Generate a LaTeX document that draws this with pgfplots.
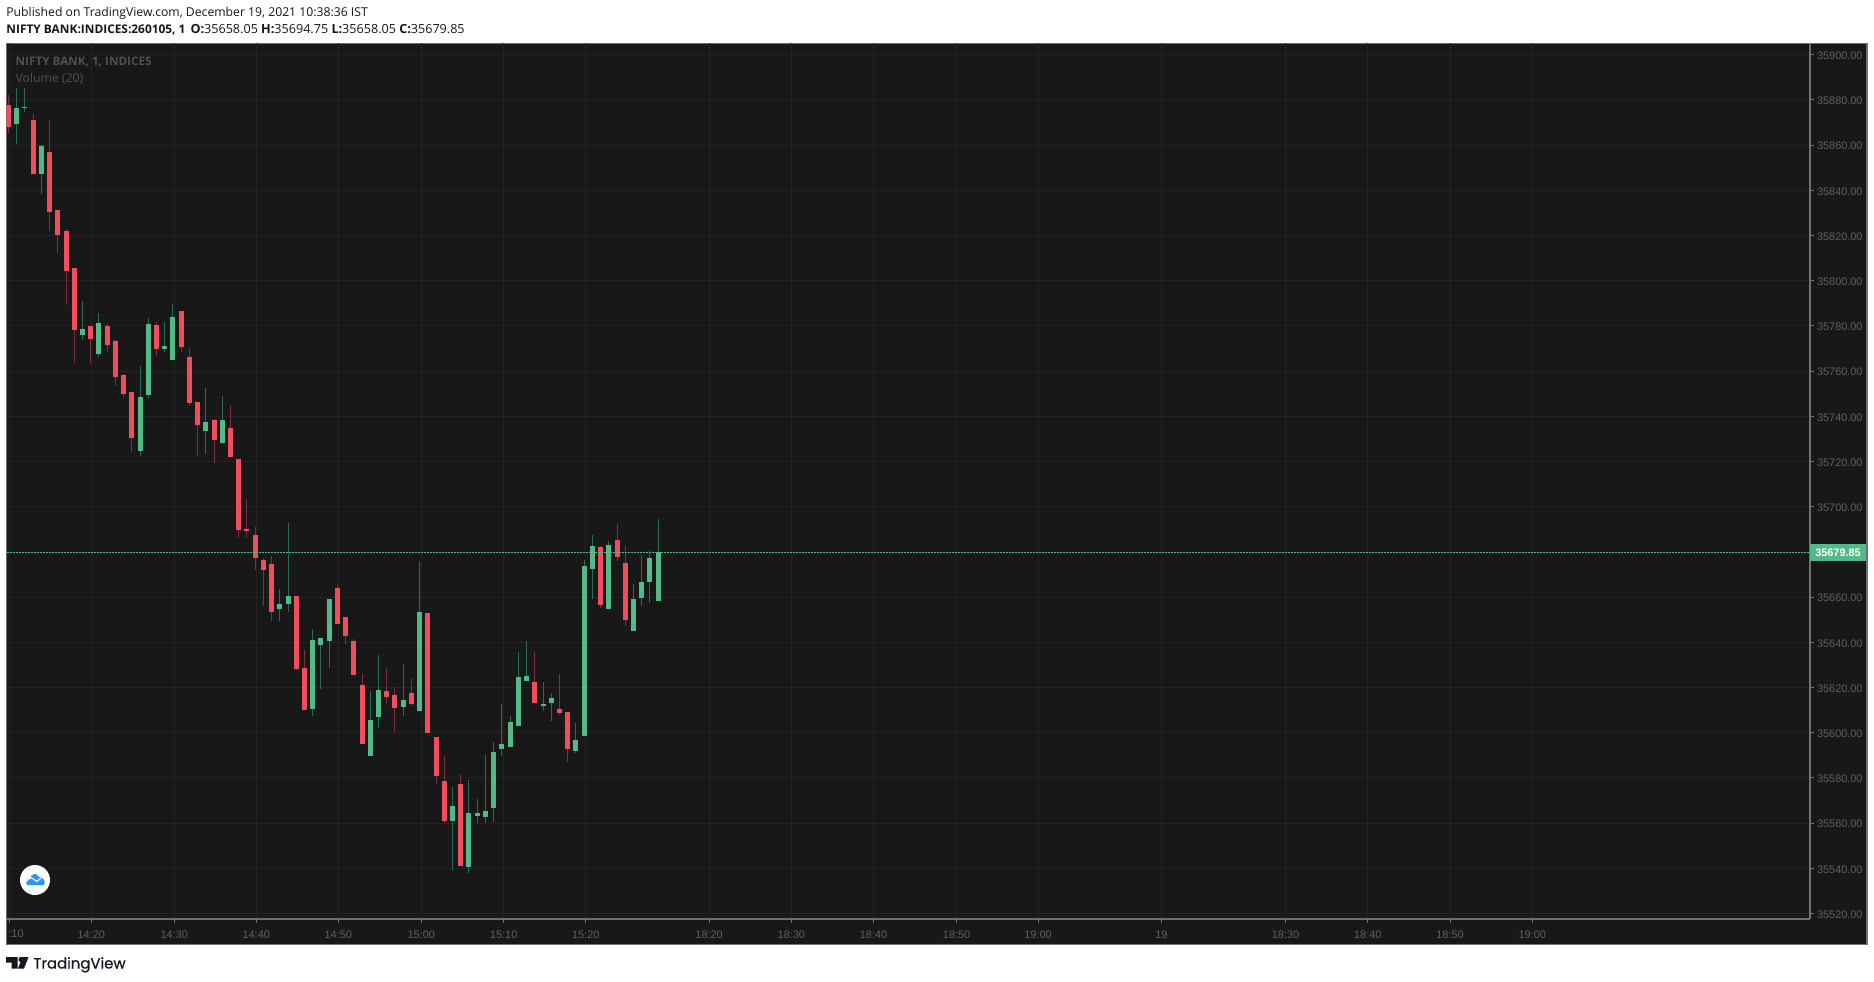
\documentclass[border=0pt]{standalone}
\usepackage{pgfplots}
\usepackage{pgfplotstable}
\usepackage{fontspec}
\pgfplotsset{compat=1.18}
\setmainfont{Liberation Sans}
\newfontfamily\topfont{Open Sans}
\newfontfamily\tvfont[FakeBold=0.6]{Poppins}
\definecolor{panebg}{HTML}{181818}
\definecolor{gridc}{HTML}{232323}
\definecolor{axisc}{HTML}{707070}
\definecolor{tickc}{HTML}{606060}
\definecolor{upc}{HTML}{53B987}
\definecolor{downc}{HTML}{F04D5E}
\definecolor{upw}{HTML}{2A6B52}
\definecolor{downw}{HTML}{7C3040}
\definecolor{wmk}{HTML}{505050}
\definecolor{inkc}{HTML}{131722}
\pgfplotstableread{
m open high low close
0 35877.7 35882.2 35865.5 35868.1
3 35871.1 35873.6 35847.3 35847.3
5 35856.9 35871.1 35822.1 35830.5
6 35831.3 35831.3 35812.4 35820.4
7 35822.0 35822.9 35789.2 35804.4
8 35805.6 35805.6 35763.7 35778.2
10 35779.9 35779.9 35763.3 35774.3
12 35779.9 35780.8 35768.6 35771.7
13 35773.3 35773.8 35753.5 35757.5
14 35758.3 35758.7 35748.7 35750.0
15 35750.8 35750.8 35724.3 35730.5
18 35780.4 35781.7 35766.8 35769.9
21 35786.6 35786.6 35768.6 35770.8
22 35766.2 35770.2 35744.7 35746.0
23 35746.3 35746.3 35722.1 35736.3
25 35738.4 35738.8 35719.5 35729.6
27 35734.8 35745.0 35722.1 35722.1
28 35721.1 35721.1 35686.3 35689.8
29 35690.1 35703.4 35686.3 35689.4
30 35687.5 35691.0 35672.1 35677.4
31 35676.4 35677.3 35656.2 35672.1
32 35674.6 35678.2 35649.6 35653.5
35 35660.5 35660.5 35627.7 35628.3
36 35628.6 35636.6 35610.2 35610.2
40 35664.0 35665.4 35648.2 35648.2
41 35651.2 35651.2 35639.4 35642.9
42 35640.6 35641.5 35625.7 35625.7
43 35621.1 35626.0 35595.1 35595.1
46 35618.5 35628.6 35612.3 35615.8
47 35616.7 35620.2 35600.3 35610.9
49 35617.6 35624.2 35611.8 35612.7
51 35653.0 35653.0 35600.0 35600.0
52 35598.1 35598.1 35577.4 35581.0
53 35578.6 35589.7 35560.0 35560.9
55 35577.3 35581.7 35541.0 35541.0
64 35622.4 35635.7 35613.3 35613.3
67 35610.5 35626.0 35608.0 35608.9
68 35609.2 35609.2 35587.2 35592.9
72 35682.2 35682.6 35655.3 35656.6
74 35685.3 35692.3 35676.1 35677.9
75 35675.1 35682.6 35647.3 35650.0
}\redcandles
\pgfplotstableread{
m open high low close
1 35869.5 35885.1 35860.6 35876.4
2 35876.5 35885.1 35874.8 35876.9
4 35847.3 35860.0 35838.5 35859.6
9 35776.1 35791.0 35773.9 35778.6
11 35767.7 35785.7 35766.4 35781.3
16 35724.8 35762.3 35722.6 35748.5
17 35749.6 35783.5 35748.2 35780.8
19 35769.9 35781.7 35768.6 35771.1
20 35765.0 35789.7 35765.0 35783.9
24 35733.6 35752.5 35723.4 35737.5
26 35728.3 35749.0 35727.9 35738.4
33 35654.7 35663.6 35649.6 35656.9
34 35657.1 35692.8 35653.5 35660.5
37 35610.6 35645.9 35607.5 35641.0
38 35638.9 35641.9 35619.5 35641.9
39 35640.7 35659.2 35628.8 35659.2
44 35589.8 35618.5 35589.8 35605.6
45 35606.9 35634.4 35602.1 35618.9
48 35611.4 35630.4 35607.4 35614.5
50 35609.7 35676.0 35609.7 35653.4
54 35560.9 35576.0 35539.4 35567.6
56 35540.6 35579.1 35538.1 35564.5
57 35563.3 35570.7 35560.2 35564.5
58 35562.8 35590.1 35560.2 35565.4
59 35566.8 35595.9 35560.6 35591.5
60 35592.8 35612.7 35589.8 35595.0
61 35593.8 35607.4 35593.8 35604.7
62 35603.1 35635.7 35603.1 35624.6
63 35623.0 35640.6 35623.0 35625.1
65 35611.8 35622.4 35609.7 35612.7
66 35613.3 35617.6 35605.3 35615.4
69 35592.0 35604.3 35591.2 35596.8
70 35598.5 35676.4 35598.5 35673.8
71 35672.6 35687.5 35659.3 35682.6
73 35654.9 35684.8 35654.9 35683.0
76 35645.1 35665.8 35645.1 35659.2
77 35659.7 35678.6 35656.2 35666.7
78 35666.8 35680.4 35657.5 35677.3
79 35658.05 35694.75 35658.05 35679.85
}\greencandles
\begin{document}
\begin{tikzpicture}
\begin{scope}[x=0.5pt,y=-0.5pt,yshift=490.5pt]
  \useasboundingbox (0,0) rectangle (1874,981);
  \fill[white] (0,0) rectangle (1874,981);
  \filldraw[fill=panebg,draw=axisc,line width=0.75pt] (6.5,43.5) rectangle (1867,944.5);
\end{scope}
\begin{axis}[
  at={(3.25pt,31pt)},anchor=south west,
  scale only axis,width=901.75pt,height=437.75pt,
  xmin=-0.243,xmax=219.08,ymin=35517.56,ymax=35904.95,
  axis x line*=bottom,axis y line*=right,
  axis line style={draw=axisc,line width=0.6pt,-},
  tick style={draw=axisc,line width=0.5pt},
  major tick length=2pt,tick align=outside,
  grid=major,major grid style={draw=gridc,line width=0.5pt},
  ytick={35520,35540,35560,35580,35600,35620,35640,35660,35700,35720,35740,35760,35780,35800,35820,35840,35860,35880,35900},
  xtick={0.097,10.07,20.16,30.13,40.1,50.2,60.22,70.2,85.2,95.2,105.2,115.3,125.2,140.2,155.3,165.3,175.3,185.3},
  xticklabels={,14:20,14:30,14:40,14:50,15:00,15:10,15:20,18:20,18:30,18:40,18:50,19:00,19,18:30,18:40,18:50,19:00},
  scaled y ticks=false,
  tick label style={font=\fontsize{5.45}{6}\selectfont,text=tickc},
  yticklabel style={/pgf/number format/fixed,/pgf/number format/fixed zerofill,
    /pgf/number format/precision=2,/pgf/number format/1000 sep={},
    /pgf/number format/assume math mode=true,anchor=west,xshift=-2pt,yshift=-0.5pt},
  xticklabel style={yshift=-0.5pt},
  clip=true,
]
% wicks
\addplot[draw=none,forget plot,error bars/.cd,y dir=minus,y explicit,error mark=none,
  error bar style={draw=downw,line width=0.5pt}]
  table[x=m,y=high,y error minus expr=\thisrow{high}-\thisrow{low}]{\redcandles};
\addplot[draw=none,forget plot,error bars/.cd,y dir=minus,y explicit,error mark=none,
  error bar style={draw=upw,line width=0.5pt}]
  table[x=m,y=high,y error minus expr=\thisrow{high}-\thisrow{low}]{\greencandles};
% bodies
\addplot[draw=none,forget plot,error bars/.cd,y dir=minus,y explicit,error mark=none,
  error bar style={draw=downc,line width=2.5pt}]
  table[x=m,y=open,y error minus expr=\thisrow{open}-\thisrow{close}]{\redcandles};
\addplot[draw=none,forget plot,error bars/.cd,y dir=minus,y explicit,error mark=none,
  error bar style={draw=upc,line width=2.5pt}]
  table[x=m,y=close,y error minus expr=\thisrow{close}-\thisrow{open}]{\greencandles};
% last price line
\addplot[draw=upc,line width=0.5pt,dash pattern=on 1pt off 0.5pt,forget plot]
  coordinates {(-0.243,35679.85) (219.08,35679.85)};
\end{axis}
\begin{scope}[x=0.5pt,y=-0.5pt,yshift=490.5pt]
  % clipped first time label
  \node[anchor=base,font=\fontsize{5.45}{6}\selectfont,text=tickc,inner sep=0pt] at (16,937) {:10};
  % last price tag
  \fill[upc] (1810,544) rectangle (1866.4,561);
  \node[anchor=base,font=\bfseries\fontsize{5.45}{6}\selectfont,text=white,inner sep=0pt] at (1838,556.5) {35679.85};
  % header
  \node[anchor=base west,inner sep=0pt,text=inkc,font=\topfont\fontsize{6.1}{7}\selectfont] at (6,17)
    {Published on TradingView.com, December 19, 2021 10:38:36 IST};
  \node[anchor=base west,inner sep=0pt,text=inkc,font=\topfont\fontsize{6.3}{7}\selectfont] at (6,33.5)
    {{\fontsize{5.95}{7}\selectfont\textbf{NIFTY BANK:INDICES:260105, 1}}\hspace{2.5pt}\textbf{O:}35658.05 \textbf{H:}35694.75 \textbf{L:}35658.05 \textbf{C:}35679.85};
  % watermark legend
  \node[anchor=base west,inner sep=0pt,text=wmk,font=\topfont\fontsize{5.85}{7}\selectfont\bfseries] at (15.3,65.5) {NIFTY BANK, 1, INDICES};
  \node[anchor=base west,inner sep=0pt,text=wmk,font=\topfont\fontsize{6.1}{7}\selectfont] at (15.3,82.5) {Volume (20)};
  % round logo
  \fill[white] (35,880) circle (15);
  \fill[fill={rgb,255:red,41;green,152;blue,244}]
    (27,885) .. controls (25,881) and (27,879) .. (30,878)
    .. controls (31,874) and (37,872) .. (39,877)
    .. controls (43,877) and (46,881) .. (44,885) -- cycle;
  \draw[white,line width=0.5pt] (26,881.5) -- (31,877.5) -- (37,881.5) -- (41,878);
  % TradingView logo
  \fill[inkc] (6,957) -- (17.5,957) -- (17.5,968.5) -- (11.5,968.5) -- (11.5,962.5) -- (6,962.5) -- cycle;
  \fill[inkc] (21,959.5) circle (2.6);
  \fill[inkc] (22.5,957) -- (28.5,957) -- (24,968.5) -- (18,968.5) -- cycle;
  \node[anchor=base west,inner sep=0pt,text=inkc,font=\tvfont\fontsize{7.45}{9}\selectfont] at (33,968.5) {TradingView};
\end{scope}
\end{tikzpicture}
\end{document}
